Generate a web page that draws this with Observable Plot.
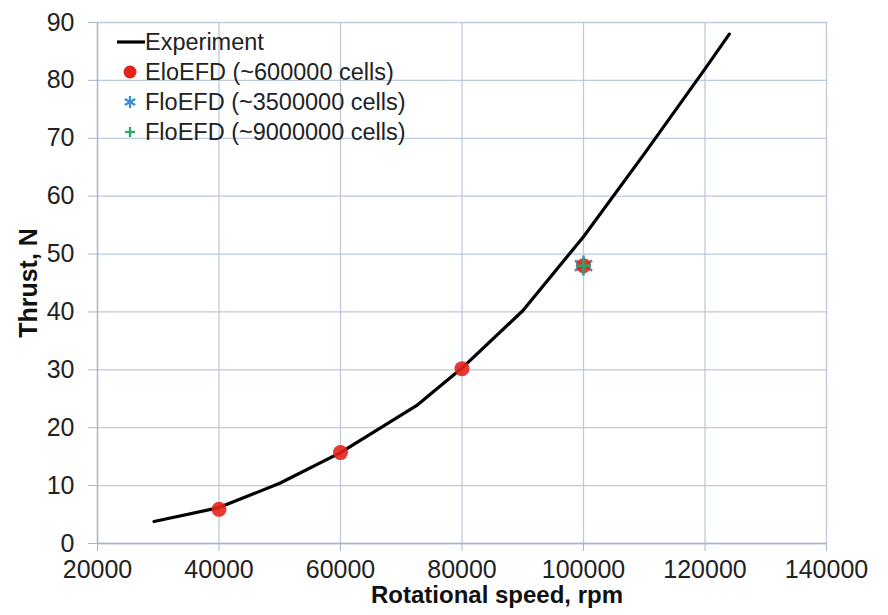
<!DOCTYPE html>
<html>
<head>
<meta charset="utf-8">
<script src="https://cdn.jsdelivr.net/npm/d3@7"></script>
<script src="https://cdn.jsdelivr.net/npm/@observablehq/plot@0.6"></script>
<style>
  html, body { margin: 0; padding: 0; background: #fff; }
  #wrap { position: relative; width: 888px; height: 615px; font-family: "Liberation Sans", Arial, sans-serif; }
  #legend { position: absolute; left: 117px; top: 27px; font-size: 23.5px; color: #222; }
  .row { display: flex; align-items: center; height: 30px; white-space: nowrap; }
  .row svg { flex: none; }
</style>
</head>
<body>
<div id="wrap"></div>
<script>
// Tick values
const xTicks = [20000, 40000, 60000, 80000, 100000, 120000, 140000];
const yTicks = [0, 10, 20, 30, 40, 50, 60, 70, 80, 90];

// Experiment curve
const expSpeed  = [29300, 40000, 50000, 60000, 72500, 80000, 90000, 100000, 110000, 120000, 124000];
const expThrust = [3.8, 6.2, 10.4, 15.7, 23.8, 30.3, 40.2, 53.0, 67.3, 82.0, 88.0];

// FloEFD (~600000 cells)
const efd600kSpeed  = [40000, 60000, 80000, 100000];
const efd600kThrust = [5.9, 15.7, 30.2, 48.0];

// FloEFD (~3500000 cells)
const efd3500kSpeed  = [100000];
const efd3500kThrust = [48.0];

// FloEFD (~9000000 cells)
const efd9000kSpeed  = [100000];
const efd9000kThrust = [48.0];

const legendLabels = ["Experiment", "EloEFD (~600000 cells)", "FloEFD (~3500000 cells)", "FloEFD (~9000000 cells)"];
const colors = {exp: "#000000", c600: "#e5231d", c3500: "#3f8ed2", c9000: "#2ca66c"};

const zip = (xs, ys) => xs.map((x, i) => ({x, y: ys[i]}));
const expData = zip(expSpeed, expThrust);
const d600 = zip(efd600kSpeed, efd600kThrust);
const d3500 = zip(efd3500kSpeed, efd3500kThrust);
const d9000 = zip(efd9000kSpeed, efd9000kThrust);

const gridColor = "#bccadb";
const axisColor = "#a6b6ca";

const chart = Plot.plot({
  width: 888,
  height: 615,
  marginLeft: 97,
  marginRight: 62,
  marginTop: 22,
  marginBottom: 72,
  x: {domain: [20000, 140000]},
  y: {domain: [0, 90]},
  style: {fontFamily: "'Liberation Sans', Arial, sans-serif", background: "#fff", color: "#222"},
  marks: [
    Plot.gridX(xTicks, {stroke: gridColor, strokeOpacity: 1, strokeWidth: 1.3}),
    Plot.gridY(yTicks, {stroke: gridColor, strokeOpacity: 1, strokeWidth: 1.3}),
    Plot.axisX(xTicks, {tickSize: 8, tickPadding: 9, fontSize: 25, tickFormat: d => String(d), stroke: axisColor, fill: "#222", label: null}),
    Plot.axisY(yTicks, {tickSize: 9, tickPadding: 14, fontSize: 25, tickFormat: d => String(d), stroke: axisColor, fill: "#222", label: null}),
    Plot.ruleX([20000], {stroke: axisColor, strokeWidth: 1.3}),
    Plot.ruleY([0], {stroke: axisColor, strokeWidth: 1.3}),
    Plot.line(expData, {x: "x", y: "y", stroke: colors.exp, strokeWidth: 3.2}),
    Plot.dot(d3500, {x: "x", y: "y", symbol: "asterisk", stroke: colors.c3500, r: 9.5, strokeWidth: 2.5}),
    Plot.dot(d600, {x: "x", y: "y", symbol: "circle", fill: colors.c600, r: 7.5, fillOpacity: 0.9}),
    Plot.dot(d9000, {x: "x", y: "y", symbol: "plus", stroke: colors.c9000, r: 5, strokeWidth: 2.5}),
    Plot.text(["Thrust, N"], {text: d => d, frameAnchor: "left", textAnchor: "middle", rotate: -90, dx: -69, fontSize: 25, fontWeight: "bold", fill: "#111"}),
    Plot.text(["Rotational speed, rpm"], {text: d => d, frameAnchor: "bottom", textAnchor: "middle", dy: 59, dx: 35, fontSize: 24, fontWeight: "bold", fill: "#111"})
  ]
});

const wrap = document.getElementById("wrap");
wrap.appendChild(chart);

// Legend (HTML overlay inside the plot area)
const symbols = [
  `<svg width="28" height="30"><line x1="0" y1="15" x2="28" y2="15" stroke="${colors.exp}" stroke-width="3.2"/></svg>`,
  `<svg width="28" height="30"><circle cx="13" cy="15" r="6.5" fill="${colors.c600}"/></svg>`,
  `<svg width="28" height="30"><g stroke="${colors.c3500}" stroke-width="2.3"><line x1="13" y1="9" x2="13" y2="21"/><line x1="7.8" y1="12" x2="18.2" y2="18"/><line x1="7.8" y1="18" x2="18.2" y2="12"/></g></svg>`,
  `<svg width="28" height="30"><g stroke="${colors.c9000}" stroke-width="2.3"><line x1="13" y1="10" x2="13" y2="20"/><line x1="8" y1="15" x2="18" y2="15"/></g></svg>`
];
const legend = document.createElement("div");
legend.id = "legend";
legend.innerHTML = legendLabels.map((t, i) => `<div class="row">${symbols[i]}<span>${t}</span></div>`).join("");
wrap.appendChild(legend);
</script>
</body>
</html>
